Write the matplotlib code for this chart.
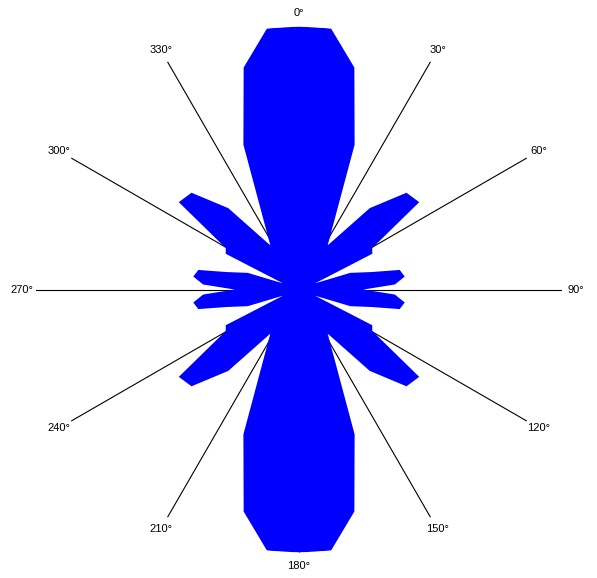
import numpy as np
import matplotlib
matplotlib.use("Agg")
import matplotlib.pyplot as plt


# ============================================
# Data: one quadrant of the pattern (0..90 deg),
# radius relative to the spoke length
# ============================================

quad_deg = [0, 7, 14, 21, 33, 41, 48, 54, 60.5, 64, 69, 72, 76.5, 79, 83, 87, 90]
quad_r = [1.0, 1.0, 0.87, 0.59, 0.20, 0.41, 0.55, 0.565, 0.32, 0.31,
          0.065, 0.205, 0.285, 0.39, 0.405, 0.365, 0.245]

spoke_deg = [0, 30, 60, 90, 120, 150, 180, 210, 240, 270, 300, 330]
spoke_labels = ["0°", "30°", "60°", "90°", "120°", "150°",
                "180°", "210°", "240°", "270°", "300°", "330°"]


# pattern is symmetric about both axes
theta = (quad_deg
         + [180 - a for a in reversed(quad_deg)]
         + [180 + a for a in quad_deg]
         + [360 - a for a in reversed(quad_deg)])
radius = quad_r + quad_r[::-1] + quad_r + quad_r[::-1]


fig = plt.figure(figsize=(5.97, 5.78), dpi=100)

ax = fig.add_axes([0.0603, 0.0441, 0.8811, 0.9100], projection="polar")

ax.set_theta_zero_location("N")
ax.set_theta_direction(-1)

ax.fill(np.radians(theta), radius, color="#0000ff", linewidth=0)

ax.set_ylim(0, 1)
ax.set_yticks([])
ax.set_thetagrids(spoke_deg, spoke_labels, fontsize=8, family="Liberation Sans")
ax.xaxis.grid(True, color="black", linewidth=0.8)
ax.set_axisbelow(True)
ax.tick_params(axis="x", pad=3, length=0)
ax.spines["polar"].set_visible(False)

fig.savefig("out.png", dpi=100, facecolor="white")
